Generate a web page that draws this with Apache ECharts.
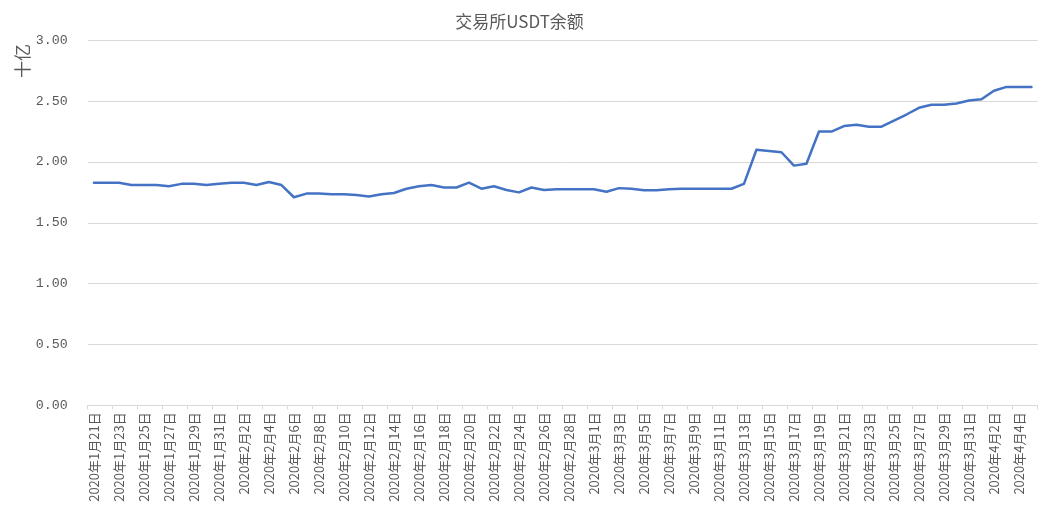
<!DOCTYPE html>
<html>
<head>
<meta charset="utf-8">
<script src="https://cdn.jsdelivr.net/npm/echarts@6/dist/echarts.min.js"></script>
<style>
html,body{margin:0;padding:0;background:#fff;}
#chart{width:1039px;height:509px;}
</style>
</head>
<body>
<div id="chart"></div>
<script>
const titleText = '交易所USDT余额';
const unitLabel = '十亿';
const categories = [
  '2020年1月21日','2020年1月22日','2020年1月23日','2020年1月24日','2020年1月25日','2020年1月26日','2020年1月27日','2020年1月28日','2020年1月29日','2020年1月30日','2020年1月31日',
  '2020年2月1日','2020年2月2日','2020年2月3日','2020年2月4日','2020年2月5日','2020年2月6日','2020年2月7日','2020年2月8日','2020年2月9日','2020年2月10日',
  '2020年2月11日','2020年2月12日','2020年2月13日','2020年2月14日','2020年2月15日','2020年2月16日','2020年2月17日','2020年2月18日','2020年2月19日','2020年2月20日',
  '2020年2月21日','2020年2月22日','2020年2月23日','2020年2月24日','2020年2月25日','2020年2月26日','2020年2月27日','2020年2月28日','2020年2月29日',
  '2020年3月1日','2020年3月2日','2020年3月3日','2020年3月4日','2020年3月5日','2020年3月6日','2020年3月7日','2020年3月8日','2020年3月9日','2020年3月10日',
  '2020年3月11日','2020年3月12日','2020年3月13日','2020年3月14日','2020年3月15日','2020年3月16日','2020年3月17日','2020年3月18日','2020年3月19日','2020年3月20日',
  '2020年3月21日','2020年3月22日','2020年3月23日','2020年3月24日','2020年3月25日','2020年3月26日','2020年3月27日','2020年3月28日','2020年3月29日','2020年3月30日','2020年3月31日',
  '2020年4月1日','2020年4月2日','2020年4月3日','2020年4月4日','2020年4月5日'
];
const balances = [
  1.83, 1.83, 1.83, 1.81, 1.81, 1.81, 1.80, 1.82, 1.82, 1.81, 1.82,
  1.83, 1.83, 1.81, 1.835, 1.81, 1.71, 1.74, 1.74, 1.735, 1.735,
  1.728, 1.717, 1.735, 1.745, 1.78, 1.80, 1.81, 1.79, 1.79, 1.83,
  1.78, 1.80, 1.77, 1.75, 1.79, 1.77, 1.775, 1.775, 1.775,
  1.775, 1.755, 1.785, 1.78, 1.767, 1.767, 1.775, 1.78, 1.78, 1.78,
  1.78, 1.78, 1.82, 2.10, 2.09, 2.08, 1.97, 1.985, 2.25, 2.25,
  2.295, 2.305, 2.29, 2.29, 2.34, 2.39, 2.445, 2.47, 2.47, 2.48, 2.505,
  2.515, 2.585, 2.617, 2.617, 2.617
];

const chart = echarts.init(document.getElementById('chart'));
const txtColor = '#595959';
const fontFam = '"Noto Sans CJK SC", "DejaVu Sans", sans-serif';
const monoFam = '"Liberation Mono", "DejaVu Sans Mono", monospace';
chart.setOption({
  animation: false,
  backgroundColor: '#fff',
  title: {
    text: titleText,
    left: 'center',
    top: 8,
    textStyle: { color: txtColor, fontSize: 17, fontWeight: 'normal', fontFamily: fontFam }
  },
  graphic: [{
    type: 'text',
    x: 14,
    y: 78,
    rotation: Math.PI / 2,
    style: { text: unitLabel, fill: txtColor, fontSize: 17, fontFamily: fontFam }
  }],
  grid: { left: 87.7, right: 1.3, top: 40.3, bottom: 103.7, containLabel: false },
  xAxis: {
    type: 'category',
    data: categories,
    boundaryGap: true,
    axisLine: { lineStyle: { color: '#d9d9d9', width: 1 } },
    axisTick: { show: true, interval: 1, length: 4, lineStyle: { color: '#d9d9d9' } },
    axisLabel: {
      interval: 1,
      rotate: 90,
      color: txtColor,
      fontSize: 13,
      fontFamily: fontFam,
      margin: 7
    },
    splitLine: { show: false }
  },
  yAxis: {
    type: 'value',
    min: 0,
    max: 3,
    interval: 0.5,
    axisLine: { show: false },
    axisTick: { show: false },
    axisLabel: {
      color: txtColor,
      fontSize: 13.3,
      fontFamily: monoFam,
      margin: 20,
      formatter: v => v.toFixed(2)
    },
    splitLine: { lineStyle: { color: '#d9d9d9', width: 1 } }
  },
  series: [{
    type: 'line',
    data: balances,
    symbol: 'none',
    smooth: false,
    lineStyle: { color: '#4472C4', width: 2.5, cap: 'round', join: 'round' }
  }]
});
</script>
</body>
</html>
